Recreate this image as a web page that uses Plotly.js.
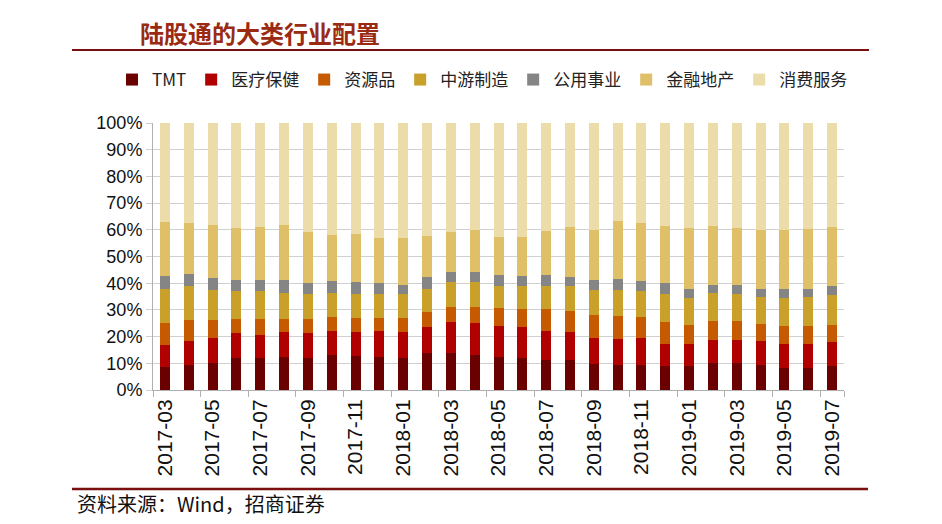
<!DOCTYPE html>
<html>
<head>
<meta charset="utf-8">
<script src="https://cdn.plot.ly/plotly-3.0.1.min.js"></script>
<style>
html,body{margin:0;padding:0;background:#fff;}
#chart{width:942px;height:524px;}
</style>
</head>
<body>
<div id="chart"></div>
<script>
const months = ["2017-03","2017-04","2017-05","2017-06","2017-07","2017-08","2017-09","2017-10","2017-11","2017-12",
"2018-01","2018-02","2018-03","2018-04","2018-05","2018-06","2018-07","2018-08","2018-09","2018-10","2018-11","2018-12",
"2019-01","2019-02","2019-03","2019-04","2019-05","2019-06","2019-07"];
const tmt     = [8.7,9.4,10.2,11.9,11.8,12.4,11.9,13.2,12.7,12.4, 11.9,13.9,13.9,13.2,12.4,11.9,11.2,11.2,9.8,9.4, 9.4,9.0,9.0,10.3,10.3,9.4,8.4,8.4,9.0];
const health  = [8.2,8.8,9.2,9.3,8.9,9.2,9.3,9.0,8.9,9.6, 9.7,9.6,11.4,11.8,11.7,11.8,11.0,10.4,9.6,9.7, 10.0,8.4,8.1,8.4,8.4,8.8,8.7,9.0,8.8];
const resources=[8.1,7.9,6.8,5.3,5.8,4.9,5.3,5.2,5.4,5.0, 5.4,5.6,5.9,6.2,6.8,6.8,8.3,8.1,8.8,8.6, 7.8,7.9,7.1,7.0,7.0,6.4,6.7,6.4,6.4];
const midstream=[13.0,12.7,11.1,10.4,10.4,10.0,9.3,9.1,9.1,8.8, 8.8,8.9,9.1,9.1,8.2,8.6,8.6,9.1,9.4,9.9, 9.9,10.5,10.3,10.8,10.4,10.4,10.7,11.2,11.2];
const utilities=[4.8,4.7,4.7,4.3,4.3,4.7,4.2,4.3,4.2,4.1, 3.5,4.3,4.0,4.0,4.1,3.7,4.1,3.5,3.6,3.9, 3.7,4.1,3.5,3.0,3.4,3.0,3.5,3.0,3.4];
const finance = [20.2,19.0,19.7,19.4,19.8,20.5,19.1,17.4,18.3,17.1, 17.7,15.4,14.7,15.5,14.1,14.5,16.3,18.7,18.6,21.9, 21.7,21.5,22.6,21.9,21.1,21.8,21.8,22.2,22.2];
const consumer= [37.0,37.5,38.3,39.4,39.0,38.3,40.9,41.8,41.4,43.0, 43.0,42.3,41.0,40.2,42.7,42.7,40.5,39.0,40.2,36.6, 37.5,38.6,39.4,38.6,39.4,40.2,40.2,39.8,39.0];

const seriesNames = ["TMT","医疗保健","资源品","中游制造","公用事业","金融地产","消费服务"];
const seriesData = [tmt,health,resources,midstream,utilities,finance,consumer];
const colors = ["#6b0000","#b00000","#c65a00","#c9a02a","#858585","#dfc068","#ecdcaa"];
const tickLabels = months.filter((m,i)=>i%2===0);

const traces = seriesNames.map((n,i)=>({
  type:'bar', name:n, x:months, y:seriesData[i],
  marker:{color:colors[i], line:{width:0}},
  hoverinfo:'x+y+name'
}));

const font = "Liberation Sans, Arial, 'Noto Sans CJK SC', sans-serif";
const cjk = "'Noto Sans CJK SC', sans-serif";
const L = 153, W = 691, B = 390, H = 267;
const layout = {
  width:942, height:524,
  barmode:'stack', bargap:0.58,
  paper_bgcolor:'#fff', plot_bgcolor:'#fff',
  margin:{l:153, r:98, t:123, b:134},
  font:{family:font, color:'#111'},
  title:{text:'<b>陆股通的大类行业配置</b>', x:140/942, xanchor:'left', xref:'container',
         y:1-35/524, yanchor:'middle', yref:'container',
         font:{family:cjk, size:24, color:'#9b2a12'}},
  showlegend:true,
  legend:{orientation:'h', x:(112-L)/W, xref:'paper', xanchor:'left', y:(B-80)/H, yref:'paper', yanchor:'middle',
          traceorder:'normal', font:{family:cjk, size:17, color:'#222'},
          itemwidth:30, tracegroupgap:0, bgcolor:'rgba(0,0,0,0)'},
  xaxis:{type:'category', tickmode:'array', tickvals:tickLabels, ticktext:tickLabels,
         tickangle:-90, tickson:'boundaries', ticks:'outside', ticklen:6, tickcolor:'#b0b0b0',
         showline:true, linecolor:'#b0b0b0', linewidth:1, showgrid:false,
         tickfont:{size:21, color:'#111', family:font}},
  yaxis:{range:[0,100], dtick:10, ticksuffix:'%', showgrid:true, gridcolor:'#d0d0d0', gridwidth:1,
         showline:true, linecolor:'#b0b0b0', ticks:'outside', ticklen:6, tickcolor:'#d0d0d0',
         tickfont:{size:18, color:'#111', family:font}, zeroline:false},
  shapes:[
    {type:'line', xref:'paper', yref:'paper', x0:(72-L)/W, x1:(869-L)/W, y0:(B-50)/H, y1:(B-50)/H,
     line:{color:'#7a0f0f', width:2}},
    {type:'line', xref:'paper', yref:'paper', x0:(72-L)/W, x1:(868-L)/W, y0:(B-489)/H, y1:(B-489)/H,
     line:{color:'#7a0f0f', width:2.5}}
  ],
  annotations:[
    {text:'资料来源：Wind，招商证券', xref:'paper', yref:'paper', x:(75-L)/W, y:(B-503)/H,
     xanchor:'left', yanchor:'middle', showarrow:false,
     font:{family:cjk, size:20, color:'#111'}}
  ]
};
Plotly.newPlot('chart', traces, layout, {displayModeBar:false, staticPlot:true});
</script>
</body>
</html>
